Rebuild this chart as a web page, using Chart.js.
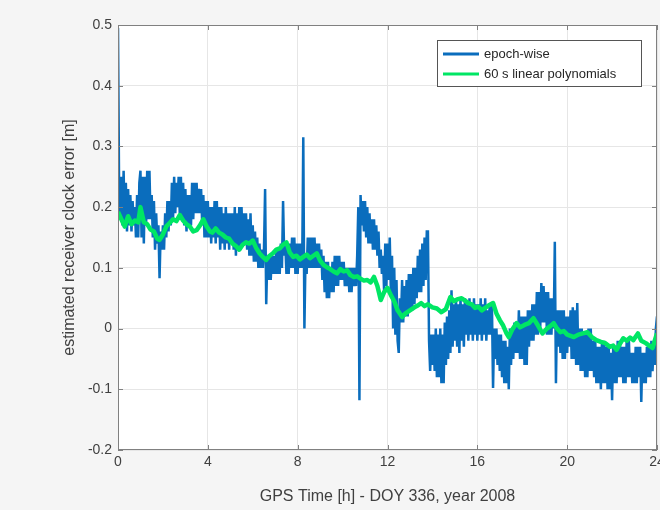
<!DOCTYPE html>
<html lang="en">
<head>
  <meta charset="UTF-8">
  <title>Receiver clock error</title>
  <script src="https://cdn.jsdelivr.net/npm/chart.js"></script>
  <style>
    html, body { margin: 0; padding: 0; background: #f5f5f5; overflow: hidden; }
    #wrap { width: 680px; height: 510px; }
  </style>
</head>
<body>
  <div id="wrap"><canvas id="clockChart" width="680" height="510"></canvas></div>

  <script>
    // epoch-wise clock estimates, one row per hour [h]
    const epochHours = [
      0, 0.05, 0.1, 0.15, 0.2, 0.25, 0.3, 0.35, 0.4, 0.45, 0.5, 0.55, 0.6, 0.65, 0.7, 0.75, 0.8, 0.85, 0.9, 0.95,
      1, 1.05, 1.1, 1.15, 1.2, 1.25, 1.3, 1.35, 1.4, 1.45, 1.5, 1.55, 1.6, 1.65, 1.7, 1.75, 1.8, 1.85, 1.9, 1.95,
      2, 2.05, 2.1, 2.15, 2.2, 2.25, 2.3, 2.35, 2.4, 2.45, 2.5, 2.55, 2.6, 2.65, 2.7, 2.75, 2.8, 2.85, 2.9, 2.95,
      3, 3.05, 3.1, 3.15, 3.2, 3.25, 3.3, 3.35, 3.4, 3.45, 3.5, 3.55, 3.6, 3.65, 3.7, 3.75, 3.8, 3.85, 3.9, 3.95,
      4, 4.05, 4.1, 4.15, 4.2, 4.25, 4.3, 4.35, 4.4, 4.45, 4.5, 4.55, 4.6, 4.65, 4.7, 4.75, 4.8, 4.85, 4.9, 4.95,
      5, 5.05, 5.1, 5.15, 5.2, 5.25, 5.3, 5.35, 5.4, 5.45, 5.5, 5.55, 5.6, 5.65, 5.7, 5.75, 5.8, 5.85, 5.9, 5.95,
      6, 6.05, 6.1, 6.15, 6.2, 6.25, 6.3, 6.35, 6.4, 6.45, 6.5, 6.55, 6.6, 6.65, 6.7, 6.75, 6.8, 6.85, 6.9, 6.95,
      7, 7.05, 7.1, 7.15, 7.2, 7.25, 7.3, 7.35, 7.4, 7.45, 7.5, 7.55, 7.6, 7.65, 7.7, 7.75, 7.8, 7.85, 7.9, 7.95,
      8, 8.05, 8.1, 8.15, 8.2, 8.25, 8.3, 8.35, 8.4, 8.45, 8.5, 8.55, 8.6, 8.65, 8.7, 8.75, 8.8, 8.85, 8.9, 8.95,
      9, 9.05, 9.1, 9.15, 9.2, 9.25, 9.3, 9.35, 9.4, 9.45, 9.5, 9.55, 9.6, 9.65, 9.7, 9.75, 9.8, 9.85, 9.9, 9.95,
      10, 10.05, 10.1, 10.15, 10.2, 10.25, 10.3, 10.35, 10.4, 10.45, 10.5, 10.55, 10.6, 10.65, 10.7, 10.75, 10.8, 10.85, 10.9, 10.95,
      11, 11.05, 11.1, 11.15, 11.2, 11.25, 11.3, 11.35, 11.4, 11.45, 11.5, 11.55, 11.6, 11.65, 11.7, 11.75, 11.8, 11.85, 11.9, 11.95,
      12, 12.05, 12.1, 12.15, 12.2, 12.25, 12.3, 12.35, 12.4, 12.45, 12.5, 12.55, 12.6, 12.65, 12.7, 12.75, 12.8, 12.85, 12.9, 12.95,
      13, 13.05, 13.1, 13.15, 13.2, 13.25, 13.3, 13.35, 13.4, 13.45, 13.5, 13.55, 13.6, 13.65, 13.7, 13.75, 13.8, 13.85, 13.9, 13.95,
      14, 14.05, 14.1, 14.15, 14.2, 14.25, 14.3, 14.35, 14.4, 14.45, 14.5, 14.55, 14.6, 14.65, 14.7, 14.75, 14.8, 14.85, 14.9, 14.95,
      15, 15.05, 15.1, 15.15, 15.2, 15.25, 15.3, 15.35, 15.4, 15.45, 15.5, 15.55, 15.6, 15.65, 15.7, 15.75, 15.8, 15.85, 15.9, 15.95,
      16, 16.05, 16.1, 16.15, 16.2, 16.25, 16.3, 16.35, 16.4, 16.45, 16.5, 16.55, 16.6, 16.65, 16.7, 16.75, 16.8, 16.85, 16.9, 16.95,
      17, 17.05, 17.1, 17.15, 17.2, 17.25, 17.3, 17.35, 17.4, 17.45, 17.5, 17.55, 17.6, 17.65, 17.7, 17.75, 17.8, 17.85, 17.9, 17.95,
      18, 18.05, 18.1, 18.15, 18.2, 18.25, 18.3, 18.35, 18.4, 18.45, 18.5, 18.55, 18.6, 18.65, 18.7, 18.75, 18.8, 18.85, 18.9, 18.95,
      19, 19.05, 19.1, 19.15, 19.2, 19.25, 19.3, 19.35, 19.4, 19.45, 19.5, 19.55, 19.6, 19.65, 19.7, 19.75, 19.8, 19.85, 19.9, 19.95,
      20, 20.05, 20.1, 20.15, 20.2, 20.25, 20.3, 20.35, 20.4, 20.45, 20.5, 20.55, 20.6, 20.65, 20.7, 20.75, 20.8, 20.85, 20.9, 20.95,
      21, 21.05, 21.1, 21.15, 21.2, 21.25, 21.3, 21.35, 21.4, 21.45, 21.5, 21.55, 21.6, 21.65, 21.7, 21.75, 21.8, 21.85, 21.9, 21.95,
      22, 22.05, 22.1, 22.15, 22.2, 22.25, 22.3, 22.35, 22.4, 22.45, 22.5, 22.55, 22.6, 22.65, 22.7, 22.75, 22.8, 22.85, 22.9, 22.95,
      23, 23.05, 23.1, 23.15, 23.2, 23.25, 23.3, 23.35, 23.4, 23.45, 23.5, 23.55, 23.6, 23.65, 23.7, 23.75, 23.8, 23.85, 23.9, 23.95,
      24
    ];
    // epoch-wise clock estimates [m]
    const epochClock = [
      0.495, 0.22, 0.18, 0.25, 0.17, 0.26, 0.17, 0.24, 0.16, 0.23, 0.17, 0.22, 0.16, 0.21, 0.17, 0.20, 0.15, 0.22, 0.15, 0.24,
      0.26, 0.15, 0.25, 0.14, 0.25, 0.17, 0.26, 0.18, 0.26, 0.18, 0.22, 0.15, 0.21, 0.13, 0.19, 0.14, 0.17, 0.083, 0.16, 0.13,
      0.17, 0.13, 0.19, 0.15, 0.21, 0.16, 0.21, 0.17, 0.24, 0.18, 0.25, 0.19, 0.24, 0.20, 0.25, 0.19, 0.25, 0.18, 0.24, 0.17,
      0.23, 0.16, 0.22, 0.17, 0.22, 0.17, 0.24, 0.18, 0.24, 0.19, 0.24, 0.19, 0.23, 0.19, 0.23, 0.17, 0.22, 0.15, 0.21, 0.15,
      0.21, 0.15, 0.20, 0.14, 0.20, 0.15, 0.21, 0.14, 0.21, 0.15, 0.20, 0.13, 0.20, 0.14, 0.19, 0.13, 0.20, 0.14, 0.19, 0.13,
      0.19, 0.14, 0.19, 0.13, 0.20, 0.12, 0.19, 0.13, 0.20, 0.13, 0.20, 0.14, 0.19, 0.14, 0.19, 0.13, 0.18, 0.12, 0.19, 0.12,
      0.17, 0.11, 0.16, 0.11, 0.15, 0.10, 0.14, 0.10, 0.13, 0.10, 0.13, 0.23, 0.04, 0.12, 0.08, 0.12, 0.08, 0.12, 0.09, 0.12,
      0.09, 0.13, 0.09, 0.13, 0.09, 0.14, 0.10, 0.21, 0.12, 0.14, 0.09, 0.14, 0.09, 0.14, 0.10, 0.15, 0.10, 0.15, 0.09, 0.14,
      0.09, 0.14, 0.10, 0.14, 0.10, 0.315, 0.00, 0.12, 0.09, 0.15, 0.10, 0.15, 0.10, 0.15, 0.10, 0.15, 0.10, 0.14, 0.10, 0.14,
      0.10, 0.13, 0.08, 0.12, 0.06, 0.11, 0.05, 0.11, 0.05, 0.10, 0.06, 0.11, 0.06, 0.12, 0.07, 0.12, 0.07, 0.12, 0.08, 0.11,
      0.08, 0.11, 0.07, 0.10, 0.07, 0.10, 0.06, 0.10, 0.06, 0.10, 0.07, 0.10, 0.07, 0.12, 0.20, -0.118, 0.22, 0.17, 0.21, 0.16,
      0.21, 0.15, 0.20, 0.14, 0.19, 0.14, 0.18, 0.13, 0.18, 0.13, 0.17, 0.12, 0.16, 0.10, 0.13, 0.09, 0.12, 0.06, 0.14, 0.07,
      0.14, 0.08, 0.15, 0.06, 0.12, 0.00, 0.10, -0.01, 0.08, -0.02, -0.04, 0.05, 0.01, 0.08, 0.01, 0.07, 0.02, 0.08, 0.02, 0.09,
      0.03, 0.09, 0.03, 0.10, 0.04, 0.10, 0.05, 0.12, 0.06, 0.13, 0.06, 0.14, 0.07, 0.15, 0.08, 0.16, 0.16, -0.02, -0.07, -0.01,
      -0.06, -0.01, -0.07, 0.00, -0.08, -0.01, -0.08, 0.00, -0.09, -0.01, -0.09, 0.01, -0.06, 0.02, -0.05, 0.03, -0.04, 0.063, -0.03, 0.04,
      -0.02, 0.05, -0.03, 0.04, -0.04, 0.05, -0.02, 0.04, -0.03, 0.05, -0.01, 0.04, -0.02, 0.05, -0.01, 0.04, -0.02, 0.05, -0.01, 0.04,
      -0.02, 0.04, -0.01, 0.05, -0.02, 0.04, -0.01, 0.05, -0.02, 0.03, -0.01, 0.04, -0.01, 0.04, -0.098, 0.00, -0.05, 0.00, -0.06, -0.01,
      -0.07, -0.01, -0.08, -0.02, -0.09, -0.02, -0.09, -0.03, -0.10, 0.00, -0.06, 0.00, -0.05, 0.01, -0.04, 0.01, -0.04, 0.03, -0.05, 0.02,
      -0.05, 0.02, -0.06, 0.02, -0.06, 0.03, -0.03, 0.03, -0.02, 0.04, -0.02, 0.04, -0.01, 0.06, -0.01, 0.06, 0.00, 0.075, 0.01, 0.07,
      0.01, 0.06, -0.01, 0.06, -0.01, 0.05, -0.01, 0.05, 0.00, 0.143, -0.09, 0.03, -0.03, 0.03, -0.04, 0.03, -0.05, 0.03, -0.05, 0.02,
      -0.04, 0.02, -0.03, 0.03, -0.05, 0.035, -0.05, 0.03, -0.06, 0.042, -0.06, 0.00, -0.07, 0.00, -0.07, -0.01, -0.08, -0.01, -0.08, 0.00,
      -0.07, 0.00, -0.07, -0.02, -0.08, -0.02, -0.09, -0.03, -0.09, -0.03, -0.10, -0.02, -0.09, -0.02, -0.09, -0.03, -0.10, -0.03, -0.10, -0.04,
      -0.118, -0.03, -0.09, -0.03, -0.09, -0.02, -0.08, -0.02, -0.08, -0.03, -0.09, -0.03, -0.09, -0.02, -0.08, -0.02, -0.08, -0.04, -0.09, -0.04,
      -0.09, -0.03, -0.09, -0.03, -0.08, -0.03, -0.121, -0.04, -0.09, -0.04, -0.09, -0.03, -0.08, -0.03, -0.08, -0.02, -0.07, -0.03, -0.06, 0.00,
      0.02
    ];

    // 60 s linear polynomial fit [h], [m]
    const polyHours = [
      0.00, 0.15, 0.30, 0.45, 0.60, 0.75, 0.90, 1.00, 1.15, 1.30, 1.45, 1.60,
      1.75, 1.85, 2.00, 2.15, 2.30, 2.45, 2.60, 2.75, 2.90, 3.05, 3.20, 3.35,
      3.50, 3.65, 3.80, 3.95, 4.10, 4.20, 4.35, 4.50, 4.65, 4.80, 4.95, 5.10,
      5.25, 5.40, 5.55, 5.70, 5.85, 6.00, 6.15, 6.30, 6.45, 6.60, 6.75, 6.90,
      7.05, 7.20, 7.35, 7.50, 7.65, 7.80, 7.95, 8.10, 8.25, 8.40, 8.55, 8.70,
      8.85, 9.00, 9.15, 9.30, 9.45, 9.60, 9.75, 9.90, 10.05, 10.20, 10.35, 10.50,
      10.65, 10.80, 10.95, 11.10, 11.25, 11.40, 11.55, 11.70, 11.85, 12.00, 12.15, 12.30,
      12.45, 12.65, 12.80, 13.00, 13.20, 13.35, 13.50, 13.65, 13.80, 14.00, 14.20, 14.40,
      14.60, 14.80, 14.95, 15.10, 15.30, 15.45, 15.60, 15.75, 15.90, 16.05, 16.20, 16.35,
      16.50, 16.70, 16.85, 17.00, 17.15, 17.30, 17.40, 17.55, 17.75, 17.90, 18.10, 18.30,
      18.50, 18.70, 18.90, 19.10, 19.25, 19.40, 19.55, 19.70, 19.85, 20.00, 20.15, 20.30,
      20.50, 20.70, 20.90, 21.10, 21.30, 21.50, 21.70, 21.90, 22.05, 22.20, 22.35, 22.50,
      22.65, 22.80, 22.95, 23.15, 23.30, 23.50, 23.65, 23.80, 23.90, 24.00
    ];
    const polyClock = [
      0.192, 0.180, 0.168, 0.185, 0.172, 0.178, 0.175, 0.200, 0.175, 0.172, 0.163, 0.160,
      0.148, 0.146, 0.155, 0.168, 0.174, 0.180, 0.177, 0.187, 0.178, 0.172, 0.168, 0.160,
      0.162, 0.170, 0.180, 0.168, 0.160, 0.158, 0.165, 0.158, 0.155, 0.150, 0.148, 0.140,
      0.136, 0.130, 0.138, 0.142, 0.140, 0.145, 0.133, 0.124, 0.118, 0.113, 0.120, 0.124,
      0.130, 0.132, 0.138, 0.142, 0.125, 0.118, 0.120, 0.114, 0.118, 0.122, 0.116, 0.120,
      0.124, 0.112, 0.105, 0.101, 0.098, 0.094, 0.091, 0.098, 0.094, 0.096, 0.088, 0.085,
      0.086, 0.082, 0.079, 0.080, 0.076, 0.085, 0.070, 0.047, 0.060, 0.067, 0.055, 0.045,
      0.030, 0.019, 0.025, 0.030, 0.035, 0.038, 0.042, 0.037, 0.040, 0.035, 0.033, 0.027,
      0.032, 0.052, 0.045, 0.048, 0.050, 0.046, 0.042, 0.040, 0.034, 0.036, 0.030, 0.034,
      0.038, 0.042, 0.025, 0.014, 0.005, -0.008, -0.014, -0.002, 0.009, 0.002, 0.006, 0.009,
      0.017, 0.005, -0.008, 0.000, 0.004, 0.009, 0.000, -0.006, -0.004, -0.010, -0.012, -0.014,
      -0.010, -0.008, -0.006, -0.014, -0.019, -0.022, -0.024, -0.030, -0.028, -0.035, -0.025, -0.016,
      -0.020, -0.015, -0.019, -0.008, -0.020, -0.024, -0.028, -0.032, -0.020, -0.008
    ];

    const xTicks = [0, 4, 8, 12, 16, 20, 24];
    const yTicks = [-0.2, -0.1, 0, 0.1, 0.2, 0.3, 0.4, 0.5];
    const seriesNames = ['epoch-wise', '60 s linear polynomials'];

    const FONT = "'Liberation Sans', Arial, Helvetica, sans-serif";

    // white plot background, MATLAB-like box with inward ticks, legend in the corner
    const boxPlugin = {
      id: 'matlabBox',
      beforeDraw(chart) {
        const { ctx, chartArea: a } = chart;
        ctx.save();
        ctx.fillStyle = '#ffffff';
        ctx.fillRect(a.left, a.top, a.right - a.left, a.bottom - a.top);
        ctx.restore();
      },
      afterDraw(chart) {
        const { ctx, chartArea: a, scales } = chart;
        ctx.save();
        ctx.strokeStyle = '#808080';
        ctx.lineWidth = 1;
        ctx.strokeRect(a.left + 0.5, a.top + 0.5, a.right - a.left - 1, a.bottom - a.top - 1);
        ctx.beginPath();
        yTicks.forEach(v => {
          const y = Math.round(scales.y.getPixelForValue(v)) + 0.5;
          ctx.moveTo(a.left, y); ctx.lineTo(a.left + 5, y);
          ctx.moveTo(a.right, y); ctx.lineTo(a.right - 5, y);
        });
        xTicks.forEach(v => {
          const x = Math.round(scales.x.getPixelForValue(v)) + 0.5;
          ctx.moveTo(x, a.bottom); ctx.lineTo(x, a.bottom - 5);
          ctx.moveTo(x, a.top); ctx.lineTo(x, a.top + 5);
        });
        ctx.stroke();

        // legend
        const lx = 437, ly = 40, lw = 204, lh = 46;
        ctx.fillStyle = '#ffffff';
        ctx.fillRect(lx, ly, lw, lh);
        ctx.strokeStyle = '#555555';
        ctx.strokeRect(lx + 0.5, ly + 0.5, lw, lh);
        ctx.font = '13px ' + FONT;
        ctx.textBaseline = 'middle';
        chart.data.datasets.forEach((ds, i) => {
          const yy = ly + 14 + i * 20;
          ctx.strokeStyle = ds.borderColor;
          ctx.lineWidth = 3;
          ctx.beginPath();
          ctx.moveTo(lx + 6, yy); ctx.lineTo(lx + 42, yy);
          ctx.stroke();
          ctx.fillStyle = '#262626';
          ctx.fillText(seriesNames[i], lx + 47, yy);
        });
        ctx.restore();
      }
    };

    const ctx = document.getElementById('clockChart').getContext('2d');
    new Chart(ctx, {
      type: 'line',
      data: {
        datasets: [
          {
            label: seriesNames[0],
            data: epochHours.map((h, i) => ({ x: h, y: epochClock[i] })),
            borderColor: '#0a6dbd',
            borderWidth: 2.5,
            pointRadius: 0,
            tension: 0,
            order: 1
          },
          {
            label: seriesNames[1],
            data: polyHours.map((h, i) => ({ x: h, y: polyClock[i] })),
            borderColor: '#00e664',
            borderWidth: 4.5,
            pointRadius: 0,
            tension: 0,
            borderJoinStyle: 'round',
            order: 0
          }
        ]
      },
      options: {
        responsive: false,
        animation: false,
        layout: { padding: { top: 25, right: 23, left: 60, bottom: 0 } },
        plugins: {
          legend: { display: false },
          tooltip: { enabled: false }
        },
        scales: {
          x: {
            type: 'linear',
            min: 0,
            max: 24,
            afterBuildTicks: s => { s.ticks = xTicks.map(v => ({ value: v })); },
            ticks: {
              color: '#404040',
              font: { family: FONT, size: 14 },
              padding: 4,
              maxRotation: 0
            },
            grid: { color: '#e6e6e6', drawTicks: false },
            border: { display: false },
            title: {
              display: true,
              text: 'GPS Time [h] - DOY 336, year 2008',
              color: '#404040',
              font: { family: FONT, size: 16 },
              padding: { top: 4 }
            },
            afterFit: s => { s.height = 60; }
          },
          y: {
            min: -0.2,
            max: 0.5,
            afterBuildTicks: s => { s.ticks = yTicks.map(v => ({ value: v })); },
            ticks: {
              color: '#404040',
              font: { family: FONT, size: 14 },
              padding: 6,
              callback: v => String(Number(v.toFixed(1)))
            },
            grid: { color: '#e6e6e6', drawTicks: false },
            border: { display: false },
            title: {
              display: true,
              text: 'estimated receiver clock error [m]',
              color: '#404040',
              font: { family: FONT, size: 16 },
              padding: 0
            },
            afterFit: s => { s.width = 58; }
          }
        }
      },
      plugins: [boxPlugin]
    });
  </script>
</body>
</html>
